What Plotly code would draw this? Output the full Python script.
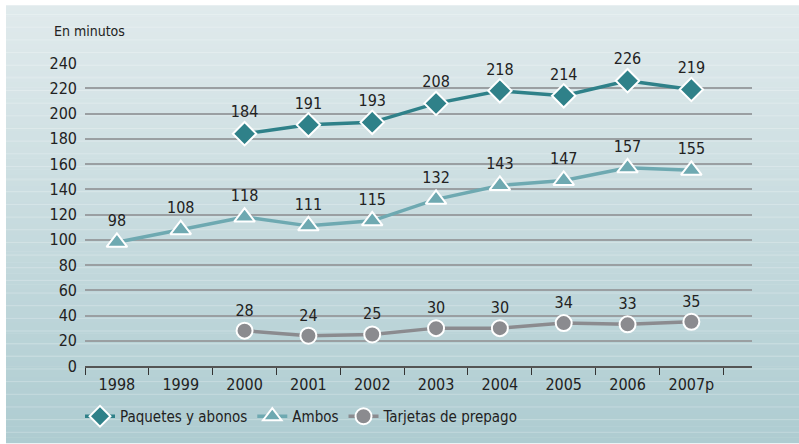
import plotly.graph_objects as go

# Chart data
years = ["1998", "1999", "2000", "2001", "2002", "2003", "2004", "2005", "2006", "2007p"]
paquetes_years = years[2:]
paquetes = [184, 191, 193, 208, 218, 214, 226, 219]
ambos = [98, 108, 118, 111, 115, 132, 143, 147, 157, 155]
tarjetas_years = years[2:]
tarjetas = [28, 24, 25, 30, 30, 34, 33, 35]
y_ticks = list(range(0, 241, 20))

W, H = 799, 444
L, R, T, B = 85, 752, 63, 367  # plot area in pixels


def px_x(p):
    return (p - L) / (R - L)


def px_y(p):
    return (B - p) / (B - T)


FONT = "DejaVu Sans Condensed, Roboto, sans-serif"
FS = 16

fig = go.Figure()

series = [
    ("Paquetes y abonos", paquetes_years, paquetes, "#2f8189", "diamond", 18),
    ("Ambos", years, ambos, "#6ea9b1", "triangle-up", 18),
    ("Tarjetas de prepago", tarjetas_years, tarjetas, "#8b8b8f", "circle", 16),
]
for name, xs, ys, color, symbol, size in series:
    fig.add_trace(go.Scatter(
        x=xs, y=ys, name=name, mode="lines+markers+text",
        text=[str(v) for v in ys], textposition="top center",
        textfont=dict(family=FONT, size=FS, color="#222222"),
        line=dict(color=color, width=3.5),
        marker=dict(symbol=symbol, size=size, color=color,
                    line=dict(color="white", width=2)),
        cliponaxis=False,
    ))

# Background panel: vertical gradient with faint horizontal stripes
shapes = []
top_px, bot_px, left_px = 5, H, 6
n = 80
c0 = (0xe0, 0xea, 0xec)
c1 = (0xae, 0xcc, 0xd1)
for i in range(n):
    f = i / (n - 1)
    col = "rgb(%d,%d,%d)" % tuple(round(a + (b - a) * f) for a, b in zip(c0, c1))
    y0 = top_px + (bot_px - top_px) * i / n
    y1 = top_px + (bot_px - top_px) * (i + 1) / n + 0.5
    shapes.append(dict(type="rect", xref="paper", yref="paper", layer="below",
                       x0=px_x(left_px), x1=px_x(W + 2), y0=px_y(y0), y1=px_y(y1),
                       fillcolor=col, line=dict(width=0)))
sy = 433.5
while sy > top_px:
    shapes.append(dict(type="line", xref="paper", yref="paper", layer="below",
                       x0=px_x(left_px), x1=px_x(W + 2), y0=px_y(sy), y1=px_y(sy),
                       line=dict(color="rgba(255,255,255,0.25)", width=1)))
    sy -= 12.7

fig.update_layout(
    width=W, height=H,
    margin=dict(l=L, r=W - R, t=T, b=H - B),
    paper_bgcolor="white", plot_bgcolor="rgba(0,0,0,0)",
    shapes=shapes,
    showlegend=True,
    legend=dict(orientation="h", x=px_x(80), y=px_y(400), xanchor="left", yanchor="top",
                font=dict(family=FONT, size=15, color="#222222"),
                bgcolor="rgba(0,0,0,0)", itemwidth=30, tracegroupgap=0),
    annotations=[dict(text="En minutos", xref="paper", yref="paper",
                      x=px_x(52), y=px_y(31), xanchor="left", yanchor="middle",
                      showarrow=False, font=dict(family=FONT, size=14, color="#222222"))],
    xaxis=dict(type="category", categoryorder="array", categoryarray=years,
               range=[-0.5, 9.95], showgrid=False, tickson="boundaries",
               ticks="outside", ticklen=7, tickcolor="#333333", tickwidth=1,
               showline=True, linecolor="#555555", linewidth=2, zeroline=False,
               ticklabelstandoff=3,
               tickfont=dict(family=FONT, size=FS, color="#222222")),
    yaxis=dict(range=[0, 240], tickvals=y_ticks, showgrid=True, gridcolor="#9a9fa2",
               gridwidth=2, zeroline=False, showline=False, ticks="",
               ticklabelstandoff=7,
               tickfont=dict(family=FONT, size=FS, color="#222222")),
)

fig.write_html("out.html")
